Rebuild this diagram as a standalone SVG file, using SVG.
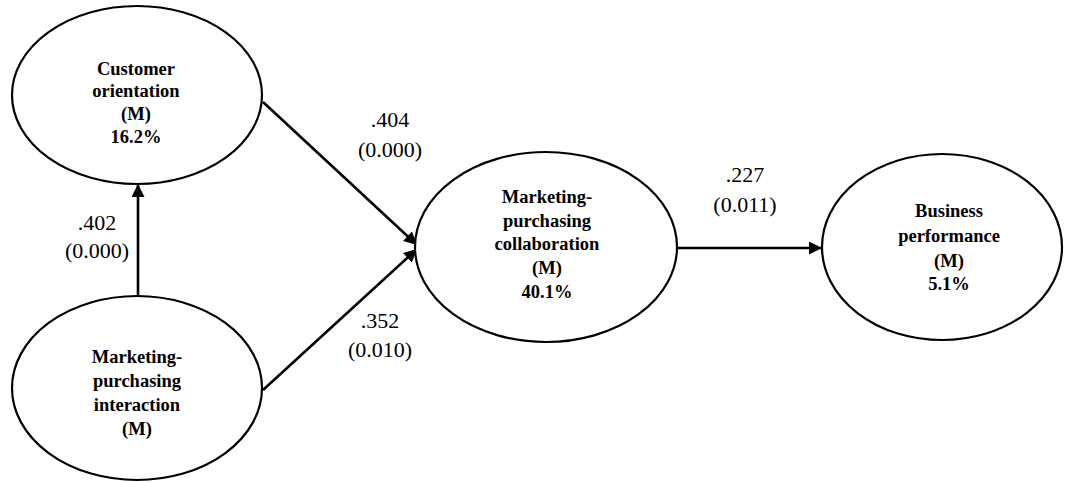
<svg xmlns="http://www.w3.org/2000/svg" width="1068" height="482" viewBox="0 0 1068 482">
<style>
.node ellipse{fill:#fff;stroke:#000;stroke-width:2.2}
text{font-family:'Liberation Serif','DejaVu Serif',serif;fill:#000;text-anchor:middle}
.nt{font-weight:bold;font-size:18.5px}
.lbl{font-size:22px}
.conn line{stroke:#000;stroke-width:2.6;fill:none}
</style>
<defs>
<marker id="ah" viewBox="0 0 10 10" refX="10" refY="5" markerWidth="5" markerHeight="5" orient="auto" markerUnits="strokeWidth">
<path d="M0,0 L10,5 L0,10 z" fill="#000"/>
</marker>
</defs>
<rect width="1068" height="482" fill="#fff"/>
<g id="connectors" class="conn">
<line x1="138" y1="296" x2="138" y2="184" marker-end="url(#ah)"/>
<line x1="263" y1="102" x2="417" y2="245" marker-end="url(#ah)"/>
<line x1="263" y1="390" x2="417" y2="249" marker-end="url(#ah)"/>
<line x1="677" y1="248" x2="822" y2="248" marker-end="url(#ah)"/>
</g>
<g id="labels" font-family="Liberation Serif, serif">
<text class="lbl" x="390" y="127">.404</text>
<text class="lbl" x="390" y="157">(0.000)</text>
<text class="lbl" x="97" y="230">.402</text>
<text class="lbl" x="97" y="258">(0.000)</text>
<text class="lbl" x="380" y="328">.352</text>
<text class="lbl" x="380" y="357">(0.010)</text>
<text class="lbl" x="745" y="182">.227</text>
<text class="lbl" x="745" y="212">(0.011)</text>
</g>
<g id="customer-orientation" class="node">
<ellipse cx="137" cy="95" rx="125" ry="89"/>
<text class="nt" x="136" y="75">Customer</text>
<text class="nt" x="136" y="97">orientation</text>
<text class="nt" x="136" y="120">(M)</text>
<text class="nt" x="136" y="143">16.2%</text>
</g>
<g id="mp-interaction" class="node">
<ellipse cx="137" cy="388" rx="125" ry="92"/>
<text class="nt" x="137" y="363">Marketing-</text>
<text class="nt" x="137" y="387">purchasing</text>
<text class="nt" x="137" y="411">interaction</text>
<text class="nt" x="137" y="435">(M)</text>
</g>
<g id="mp-collaboration" class="node">
<ellipse cx="546" cy="247" rx="131" ry="95"/>
<text class="nt" x="547" y="203">Marketing-</text>
<text class="nt" x="547" y="227">purchasing</text>
<text class="nt" x="547" y="250">collaboration</text>
<text class="nt" x="547" y="274">(M)</text>
<text class="nt" x="547" y="298">40.1%</text>
</g>
<g id="business-performance" class="node">
<ellipse cx="942" cy="247" rx="120" ry="93"/>
<text class="nt" x="949" y="217">Business</text>
<text class="nt" x="949" y="242">performance</text>
<text class="nt" x="949" y="267">(M)</text>
<text class="nt" x="949" y="290">5.1%</text>
</g>
</svg>
